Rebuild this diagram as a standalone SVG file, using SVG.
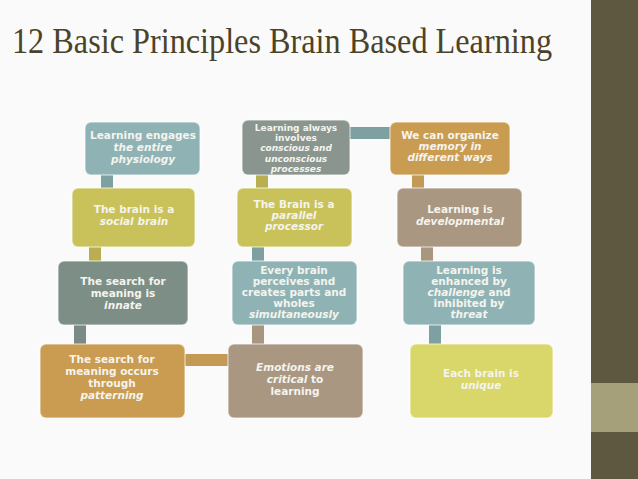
<svg xmlns="http://www.w3.org/2000/svg" width="638" height="479" viewBox="0 0 638 479">
<style>
.b{stroke:#ffffff;stroke-opacity:.5;stroke-width:1.5}
.t{font-family:"DejaVu Sans",sans-serif;font-weight:bold;font-size:10.5px;fill:#f4f4ee;text-anchor:middle}
.s{font-size:9px}
.i{font-style:italic}
.c{stroke-width:12;fill:none}
</style>
<rect width="638" height="479" fill="#fafafa"/>
<rect x="591" y="0" width="47" height="383" fill="#5f5840"/>
<rect x="591" y="383" width="47" height="49" fill="#a5a07a"/>
<rect x="591" y="432" width="47" height="47" fill="#5f5840"/>
<text x="12" y="53" font-family="Liberation Serif,serif" font-size="36" fill="#4b4329" textLength="540" lengthAdjust="spacingAndGlyphs">12 Basic Principles Brain Based Learning</text>
<g id="connectors">
<path class="c" stroke="#7fa0a0" d="M107 170V195"/>
<path class="c" stroke="#b8b050" d="M95 240V268"/>
<path class="c" stroke="#7a8a86" d="M80 318V350"/>
<path class="c" stroke="#c29a55" d="M180 360H235"/>
<path class="c" stroke="#b8b050" d="M262 170V195"/>
<path class="c" stroke="#7fa0a0" d="M258 240V268"/>
<path class="c" stroke="#a8967e" d="M258 318V350"/>
<path class="c" stroke="#7fa0a0" d="M345 133H395"/>
<path class="c" stroke="#c29a55" d="M418 170V195"/>
<path class="c" stroke="#a8967e" d="M427 240V268"/>
<path class="c" stroke="#7fa0a0" d="M435 318V350"/>
</g>
<g id="n1"><rect class="b" x="85" y="122" width="115" height="53" rx="6" fill="#8fb3b5"/><text class="t" x="143" y="139">Learning engages<tspan class="i" x="143" dy="12">the entire</tspan><tspan class="i" x="143" dy="12">physiology</tspan></text></g>
<g id="n2"><rect class="b" x="72" y="188" width="123" height="59" rx="6" fill="#c9c25a"/><text class="t" x="134" y="213">The brain is a<tspan class="i" x="134" dy="12">social brain</tspan></text></g>
<g id="n3"><rect class="b" x="58" y="261" width="130" height="64" rx="6" fill="#7d8e86"/><text class="t" x="123" y="285">The search for<tspan x="123" dy="12">meaning is</tspan><tspan class="i" x="123" dy="12">innate</tspan></text></g>
<g id="n4"><rect class="b" x="40" y="344" width="145" height="74" rx="6" fill="#c99c52"/><text class="t" x="112" y="363">The search for<tspan x="112" dy="12">meaning occurs</tspan><tspan x="112" dy="12">through</tspan><tspan class="i" x="112" dy="12">patterning</tspan></text></g>
<g id="n5"><rect class="b" x="242" y="120" width="108" height="55" rx="6" fill="#8a958f"/><text class="t s" x="296" y="131">Learning always<tspan x="296" dy="10.2">involves</tspan><tspan class="i" x="296" dy="10.2">conscious and</tspan><tspan class="i" x="296" dy="10.2">unconscious</tspan><tspan class="i" x="296" dy="10.2">processes</tspan></text></g>
<g id="n6"><rect class="b" x="237" y="188" width="115" height="59" rx="6" fill="#c9c25a"/><text class="t" x="294" y="208">The Brain is a<tspan class="i" x="294" dy="11">parallel</tspan><tspan class="i" x="294" dy="11">processor</tspan></text></g>
<g id="n7"><rect class="b" x="232" y="261" width="125" height="64" rx="6" fill="#8fb3b5"/><text class="t" x="294" y="274">Every brain<tspan x="294" dy="11">perceives and</tspan><tspan x="294" dy="11">creates parts and</tspan><tspan x="294" dy="11">wholes</tspan><tspan class="i" x="294" dy="11">simultaneously</tspan></text></g>
<g id="n8"><rect class="b" x="228" y="344" width="135" height="74" rx="6" fill="#a99782"/><text class="t" x="295" y="371"><tspan class="i">Emotions are</tspan><tspan class="i" x="295" dy="12">critical</tspan> to<tspan x="295" dy="12">learning</tspan></text></g>
<g id="n9"><rect class="b" x="390" y="122" width="120" height="53" rx="6" fill="#c99c52"/><text class="t" x="450" y="139">We can organize<tspan class="i" x="450" dy="11">memory in</tspan><tspan class="i" x="450" dy="11">different ways</tspan></text></g>
<g id="n10"><rect class="b" x="397" y="188" width="125" height="59" rx="6" fill="#a99782"/><text class="t" x="460" y="213">Learning is<tspan class="i" x="460" dy="12">developmental</tspan></text></g>
<g id="n11"><rect class="b" x="403" y="261" width="132" height="64" rx="6" fill="#8fb3b5"/><text class="t" x="469" y="274">Learning is<tspan x="469" dy="11">enhanced by</tspan><tspan x="469" dy="11"><tspan class="i">challenge</tspan> and</tspan><tspan x="469" dy="11">inhibited by</tspan><tspan class="i" x="469" dy="11">threat</tspan></text></g>
<g id="n12"><rect class="b" x="410" y="344" width="143" height="74" rx="6" fill="#d9d66a"/><text class="t" x="481" y="377">Each brain is<tspan class="i" x="481" dy="12">unique</tspan></text></g>
</svg>
